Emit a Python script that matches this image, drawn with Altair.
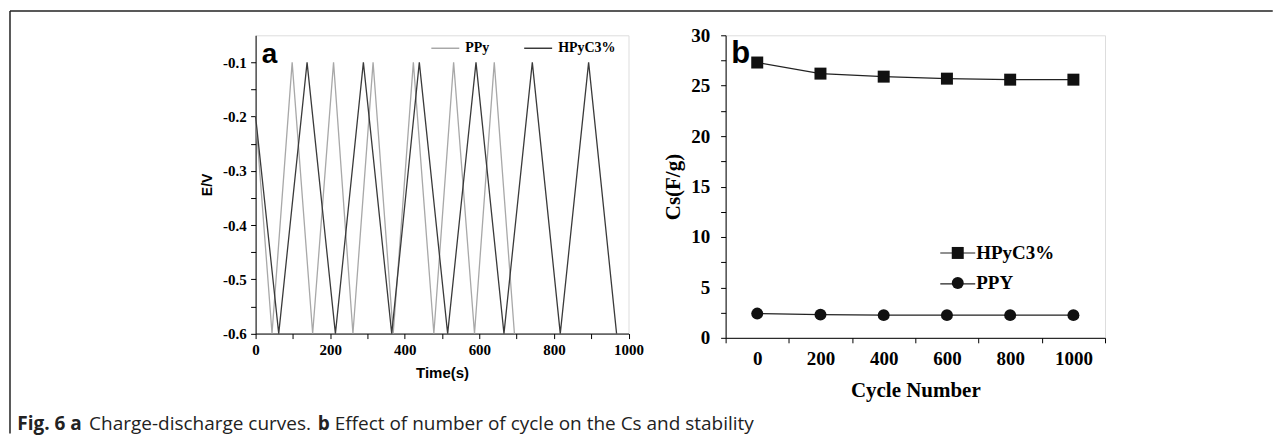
import altair as alt
import pandas as pd

# ---------------- data ----------------
# Panel a: charge-discharge curves (turning points of the triangular waves)
ppy_time = [0, 44, 98, 153, 209, 261, 315, 369, 423, 478, 531, 587, 640, 694]
ppy_e = [-0.20, -0.60, -0.10, -0.60, -0.10, -0.60, -0.10, -0.60, -0.10, -0.60, -0.10, -0.60, -0.10, -0.60]
hpy_time = [0, 62, 138, 214, 289, 365, 439, 515, 591, 666, 742, 817, 893, 968]
hpy_e = [-0.20, -0.60, -0.10, -0.60, -0.10, -0.60, -0.10, -0.60, -0.10, -0.60, -0.10, -0.60, -0.10, -0.60]
series_a = ["PPy", "HPyC3%"]
colors_a = ["#a8a8a8", "#3a3a3a"]

# Panel b: specific capacitance vs cycle number
cycles = [0, 200, 400, 600, 800, 1000]
hpy_cs = [27.3, 26.2, 25.9, 25.7, 25.6, 25.6]
ppy_cs = [2.4, 2.3, 2.25, 2.25, 2.25, 2.25]
series_b = ["HPyC3%", "PPY"]

# tick positions
x_ticks_a = [0, 100, 200, 300, 400, 500, 600, 700, 800, 900, 1000]
y_ticks_a = [-0.6, -0.55, -0.5, -0.45, -0.4, -0.35, -0.3, -0.25, -0.2, -0.15, -0.1]
x_ticks_b = [-100, 0, 100, 200, 300, 400, 500, 600, 700, 800, 900, 1000, 1100]
y_ticks_b = [0, 2.5, 5, 7.5, 10, 12.5, 15, 17.5, 20, 22.5, 25, 27.5, 30]

caption_bold_1 = "Fig. 6 a"
caption_text_1 = "Charge-discharge curves."
caption_bold_2 = "b"
caption_text_2 = "Effect of number of cycle on the Cs and stability"

# ---------------- layout ----------------
SERIF = "Liberation Serif"
SANS = "Liberation Sans"
CAP_FONT = "Open Sans"
AW, AH = 373.5, 298.75
BW, BH = 380, 303
OX, OY = 254.75, 34.25          # page position of panel a's plot area
BX = 725                        # page x of panel b's plot area


def px(page_x):
    return page_x - OX


def py(page_y):
    return page_y - OY


one = pd.DataFrame({"k": [0]})

# ---------------- panel a ----------------
df_a = pd.DataFrame({
    "Time": ppy_time + hpy_time,
    "E": ppy_e + hpy_e,
    "Series": [series_a[0]] * len(ppy_time) + [series_a[1]] * len(hpy_time),
})

axis_common = dict(grid=False, domainColor="black", tickColor="black",
                   labelColor="black", titleColor="black", labelFlush=False,
                   labelOverlap=False, tickSize=5)

lines_a = alt.Chart(df_a).mark_line(strokeWidth=1.3).encode(
    x=alt.X("Time:Q", scale=alt.Scale(domain=[0, 1000], nice=False, zero=False),
            axis=alt.Axis(values=x_ticks_a,
                          labelExpr="datum.value % 200 == 0 ? datum.label : ''",
                          format="d", title="Time(s)", titleFont=SANS,
                          titleFontSize=15, titleFontWeight="bold",
                          labelFont=SERIF, labelFontSize=15, labelFontWeight="bold",
                          labelPadding=4, titlePadding=8, **axis_common)),
    y=alt.Y("E:Q", scale=alt.Scale(domain=[-0.6, -0.05], nice=False, zero=False),
            axis=alt.Axis(values=y_ticks_a,
                          labelExpr="abs(round(datum.value*100)) % 10 == 0 ? ((datum.value < 0 ? '-' : '') + format(abs(datum.value), '.1f')) : ''",
                          title="E/V", titleFont=SANS, titleFontSize=14,
                          titleFontWeight="bold", labelFont=SERIF, labelFontSize=15,
                          labelFontWeight="bold", labelPadding=4.5, titlePadding=8,
                          **axis_common)),
    color=alt.Color("Series:N", scale=alt.Scale(domain=series_a, range=colors_a),
                    legend=alt.Legend(orient="none", legendX=175, legendY=-2,
                                      direction="horizontal", title=None,
                                      symbolType="stroke", symbolSize=784,
                                      symbolStrokeWidth=1.5, labelFont=SERIF,
                                      labelFontSize=14, labelFontWeight="bold",
                                      labelColor="black", labelOffset=5,
                                      columnPadding=31, padding=0)),
)

label_a = alt.Chart(pd.DataFrame({"t": ["a"]})).mark_text(
    font=SANS, fontWeight="bold", fontSize=28, align="left", baseline="alphabetic",
    color="black").encode(text="t:N", x=alt.value(px(261)), y=alt.value(py(62.3)))

# figure frame (top and left lines)
frame_top = alt.Chart(one).mark_rule(color="#222", strokeWidth=1.5).encode(
    x=alt.value(px(8.75)), x2=alt.value(px(1273.5)), y=alt.value(py(10)))
frame_left = alt.Chart(one).mark_rule(color="#222", strokeWidth=1.5).encode(
    x=alt.value(px(8.75)), y=alt.value(py(10)), y2=alt.value(py(433)))

# caption
cap_y = py(430)


def cap(txt, x, weight):
    return alt.Chart(pd.DataFrame({"t": [txt]})).mark_text(
        font=CAP_FONT, fontSize=19, fontWeight=weight, align="left",
        baseline="alphabetic", color="#222").encode(
        text="t:N", x=alt.value(px(x)), y=alt.value(cap_y))


caption = (cap(caption_bold_1, 16, "bold") + cap(caption_text_1, 88, "normal")
           + cap(caption_bold_2, 317, "bold") + cap(caption_text_2, 334, "normal"))

panel_a = alt.layer(frame_top, frame_left, lines_a, label_a, caption).properties(
    width=AW, height=AH)

# ---------------- panel b ----------------
df_b = pd.DataFrame({
    "Cycle": cycles + cycles,
    "Cs": hpy_cs + ppy_cs,
    "Series": [series_b[0]] * len(cycles) + [series_b[1]] * len(cycles),
})

x_b = alt.X("Cycle:Q", scale=alt.Scale(domain=[-100, 1100], nice=False, zero=False),
            axis=alt.Axis(values=x_ticks_b,
                          labelExpr="datum.value % 200 == 0 && datum.value >= 0 && datum.value <= 1000 ? datum.label : ''",
                          tickOpacity={"condition": {"test": "datum.value % 200 == 0", "value": 0}, "value": 1},
                          format="d", title="Cycle Number", titleFont=SERIF,
                          titleFontSize=21, titleFontWeight="bold", labelFont=SERIF,
                          labelFontSize=19, labelFontWeight="bold", labelPadding=7,
                          titlePadding=11, **axis_common))
y_b = alt.Y("Cs:Q", scale=alt.Scale(domain=[0, 30], nice=False, zero=False),
            axis=alt.Axis(values=y_ticks_b,
                          labelExpr="datum.value % 5 == 0 ? datum.label : ''",
                          title="Cs(F/g)", titleFont=SERIF, titleFontSize=21,
                          titleFontWeight="bold", labelFont=SERIF, labelFontSize=19,
                          labelFontWeight="bold", labelPadding=11, titlePadding=7,
                          **axis_common))

lines_b = alt.Chart(df_b).mark_line(color="#222", strokeWidth=1.2).encode(
    x=x_b, y=y_b, detail="Series:N")

points_b = alt.Chart(df_b).mark_point(filled=True, color="#111", size=144,
                                      opacity=1).encode(
    x=x_b, y=y_b,
    shape=alt.Shape("Series:N", scale=alt.Scale(domain=series_b, range=["square", "circle"]),
                    legend=alt.Legend(orient="none", legendX=223, legendY=208.5,
                                      title=None, symbolSize=144, labelFont=SERIF,
                                      labelFontSize=19, labelFontWeight="bold",
                                      labelColor="black", labelOffset=9,
                                      rowPadding=10, padding=0,
                                      symbolFillColor="#111", symbolStrokeColor="#111")),
)


def legend_line(page_y):
    return alt.Chart(one).mark_rule(color="#222", strokeWidth=1.2).encode(
        x=alt.value(940 - BX), x2=alt.value(975 - BX), y=alt.value(page_y - OY))


label_b = alt.Chart(pd.DataFrame({"t": ["b"]})).mark_text(
    font=SANS, fontWeight="bold", fontSize=31, align="left", baseline="alphabetic",
    color="black").encode(text="t:N", x=alt.value(730.7 - BX), y=alt.value(62 - OY))

panel_b = alt.layer(legend_line(252.3), legend_line(283.3), lines_b, points_b,
                    label_b).properties(width=BW, height=BH)

chart = alt.hconcat(panel_a, panel_b, spacing=BX - OX - AW, bounds="flush").resolve_scale(
    color="independent", shape="independent"
).properties(
    padding={"left": 0, "top": 1, "right": 0, "bottom": 0}
).configure_view(stroke="#222", strokeWidth=1.2).configure(font=SERIF)

chart.save("out.html", embed_options={"renderer": "svg", "actions": False})
